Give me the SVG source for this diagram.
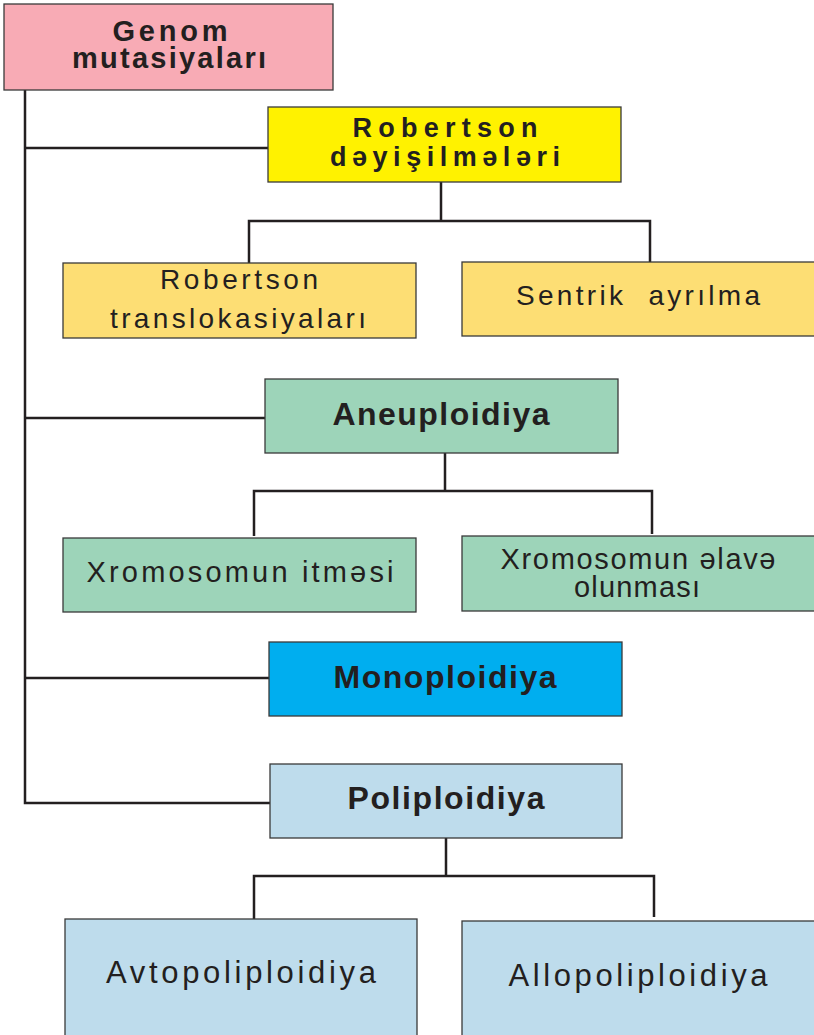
<svg xmlns="http://www.w3.org/2000/svg" width="814" height="1035" viewBox="0 0 814 1035">
  <style>
    .box { stroke: #3a3a3a; stroke-width: 1.3; }
    .pink { fill: #F8ABB5; }
    .yellow { fill: #FFF200; }
    .sand { fill: #FDDE74; }
    .green { fill: #9DD4B9; }
    .blue { fill: #00AEEF; }
    .pale { fill: #BEDCEC; }
    .b { font-family: "Liberation Sans", Arial, sans-serif; font-weight: bold; fill: #231F20; text-anchor: middle; }
    .r { font-family: "Liberation Sans", Arial, sans-serif; fill: #231F20; text-anchor: middle; }
    .link { fill: none; stroke: #231F20; stroke-width: 2.5; }
  </style>

  <g id="connectors">
    <path class="link" d="M25 90 V803 H270"/>
    <path class="link" d="M25 148 H268"/>
    <path class="link" d="M25 418 H265"/>
    <path class="link" d="M25 678 H269"/>
    <path class="link" d="M441 182 V221 M249 263 V221 H650 V262"/>
    <path class="link" d="M445 453 V491 M254 536 V491 H652 V534"/>
    <path class="link" d="M446 838 V876 M254 919 V876 H654 V917"/>
  </g>

  <g id="genom">
    <rect class="box pink" x="4" y="4" width="329" height="86"/>
    <text class="b" font-size="29" x="170" y="41" textLength="115" lengthAdjust="spacing">Genom</text>
    <text class="b" font-size="29" x="169" y="68" textLength="194" lengthAdjust="spacing">mutasiyaları</text>
  </g>

  <g id="robertson">
    <rect class="box yellow" x="268" y="107" width="353" height="75"/>
    <text class="b" font-size="27" x="445" y="137" textLength="185" lengthAdjust="spacing">Robertson</text>
    <text class="b" font-size="27" x="445" y="166" textLength="230" lengthAdjust="spacing">dəyişilmələri</text>
  </g>

  <g id="translokasiya">
    <rect class="box sand" x="63" y="263" width="353" height="75"/>
    <text class="r" font-size="28" x="239" y="289" textLength="158" lengthAdjust="spacing">Robertson</text>
    <text class="r" font-size="28" x="238" y="328" textLength="256" lengthAdjust="spacing">translokasiyaları</text>
  </g>

  <g id="sentrik">
    <rect class="box sand" x="462" y="262" width="356" height="74"/>
    <text class="r" font-size="28" x="638" y="305" textLength="244" lengthAdjust="spacing" xml:space="preserve">Sentrik  ayrılma</text>
  </g>

  <g id="aneuploidiya">
    <rect class="box green" x="265" y="379" width="353" height="74"/>
    <text class="b" font-size="32" x="441" y="425" textLength="217" lengthAdjust="spacing">Aneuploidiya</text>
  </g>

  <g id="itmesi">
    <rect class="box green" x="63" y="538" width="353" height="74"/>
    <text class="r" font-size="29" x="240" y="582" textLength="307" lengthAdjust="spacing">Xromosomun itməsi</text>
  </g>

  <g id="elave">
    <rect class="box green" x="462" y="536" width="356" height="75"/>
    <text class="r" font-size="29" x="638" y="569" textLength="275" lengthAdjust="spacing">Xromosomun əlavə</text>
    <text class="r" font-size="29" x="637" y="597" textLength="126" lengthAdjust="spacing">olunması</text>
  </g>

  <g id="monoploidiya">
    <rect class="box blue" x="269" y="642" width="353" height="74"/>
    <text class="b" font-size="32" x="445" y="688" textLength="223" lengthAdjust="spacing">Monoploidiya</text>
  </g>

  <g id="poliploidiya">
    <rect class="box pale" x="270" y="764" width="352" height="74"/>
    <text class="b" font-size="32" x="446" y="809" textLength="197" lengthAdjust="spacing">Poliploidiya</text>
  </g>

  <g id="avtopoliploidiya">
    <rect class="box pale" x="65" y="919" width="352" height="120"/>
    <text class="r" font-size="31" x="241" y="983" textLength="270" lengthAdjust="spacing">Avtopoliploidiya</text>
  </g>

  <g id="allopoliploidiya">
    <rect class="box pale" x="462" y="921" width="356" height="118"/>
    <text class="r" font-size="31" x="638" y="986" textLength="259" lengthAdjust="spacing">Allopoliploidiya</text>
  </g>
</svg>
